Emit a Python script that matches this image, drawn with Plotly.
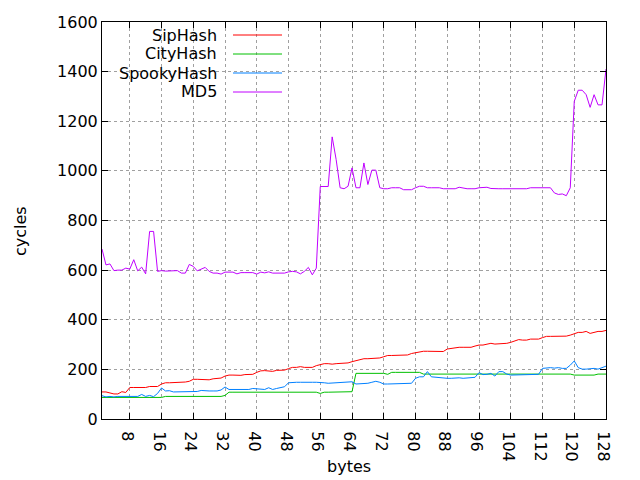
import plotly.graph_objects as go

x_bytes = list(range(1, 129))

siphash = [109, 109, 105, 101, 101, 110, 107, 127, 127, 127, 127, 127, 131, 131, 131, 141,
           146, 146, 146, 149, 149, 149, 152, 160, 160, 160, 158, 158, 162, 162, 165, 173,
           177, 177, 176, 176, 179, 179, 180, 188, 194, 195, 192, 192, 196, 196, 197, 203,
           208, 208, 211, 208, 208, 208, 215, 219, 223, 223, 221, 223, 223, 224, 226, 231,
           236, 240, 243, 243, 243, 244, 246, 251, 256, 256, 256, 256, 256, 258, 264, 267,
           273, 273, 273, 272, 272, 272, 272, 282, 285, 285, 289, 289, 289, 289, 294, 298,
           298, 302, 305, 302, 302, 305, 305, 309, 315, 320, 318, 318, 322, 322, 322, 328,
           333, 333, 333, 333, 334, 334, 338, 344, 349, 349, 353, 345, 349, 353, 353, 357]

cityhash = [87, 87, 87, 87, 87, 87, 87, 87, 87, 87, 87, 87, 87, 87, 87, 87,
            91, 91, 91, 91, 91, 91, 91, 91, 91, 91, 91, 91, 91, 91, 91, 95,
            108, 108, 108, 108, 108, 108, 108, 108, 108, 108, 108, 108, 108, 108, 108, 108,
            108, 108, 108, 108, 108, 108, 108, 103, 108, 108, 108, 108, 108, 108, 108, 110,
            184, 184, 184, 184, 184, 184, 184, 184, 180, 188, 188, 188, 188, 188, 188, 188,
            188, 181, 181, 181, 181, 181, 181, 181, 181, 181, 181, 181, 181, 181, 181, 183,
            183, 183, 183, 183, 183, 183, 183, 183, 183, 183, 183, 183, 183, 183, 183, 183,
            181, 181, 181, 181, 181, 181, 181, 177, 177, 177, 177, 177, 177, 181, 181, 181]

spookyhash = [94, 89, 91, 89, 91, 91, 91, 91, 91, 91, 99, 91, 95, 90, 103, 125,
              113, 114, 109, 109, 109, 109, 111, 111, 111, 115, 113, 113, 113, 113, 117, 129,
              119, 119, 119, 119, 119, 119, 123, 121, 119, 119, 126, 119, 123, 125, 130, 146,
              148, 148, 148, 149, 148, 148, 148, 148, 146, 144, 145, 148, 148, 148, 148, 150,
              141, 142, 144, 144, 148, 152, 148, 141, 141, 141, 144, 144, 141, 144, 144, 164,
              170, 170, 191, 170, 168, 168, 166, 164, 164, 166, 166, 164, 166, 168, 168, 187,
              179, 180, 184, 173, 191, 191, 181, 177, 177, 177, 177, 180, 180, 180, 180, 204,
              207, 207, 205, 207, 204, 204, 217, 234, 207, 201, 201, 204, 204, 201, 207, 213]

md5 = [685, 621, 625, 598, 600, 600, 608, 604, 642, 597, 612, 585, 756, 756, 595, 598,
       596, 596, 596, 598, 588, 588, 623, 615, 597, 604, 611, 595, 588, 588, 584, 592,
       592, 592, 585, 590, 590, 590, 590, 584, 592, 589, 593, 588, 588, 588, 588, 593,
       595, 593, 585, 595, 611, 581, 608, 937, 937, 937, 1137, 1046, 932, 928, 938, 1012,
       932, 932, 1032, 945, 1003, 1003, 932, 928, 928, 932, 932, 932, 924, 924, 924, 932,
       938, 938, 932, 932, 932, 932, 928, 928, 928, 928, 934, 930, 928, 928, 928, 932,
       932, 934, 929, 930, 928, 928, 928, 928, 930, 928, 928, 928, 932, 932, 932, 932,
       932, 932, 911, 905, 907, 900, 932, 1280, 1325, 1325, 1307, 1256, 1307, 1266, 1266, 1410]

series_names = ["SipHash", "CityHash", "SpookyHash", "MD5"]
series_values = [siphash, cityhash, spookyhash, md5]
series_colors = ["#ff0000", "#00c000", "#0080ff", "#c000ff"]

x_ticks = list(range(8, 129, 8))
y_ticks = list(range(0, 1601, 200))

FONT = "DejaVu Sans"
FS = 16

fig = go.Figure()
for name, vals, col in zip(series_names, series_values, series_colors):
    fig.add_trace(go.Scatter(x=x_bytes, y=vals, mode="lines", name=name,
                             line=dict(color=col, width=1), showlegend=False))

# plot area in pixels: left 102, right 606, top 22, bottom 419
L, R, T, B = 102, 606, 22, 419
W, H = R - L, B - T

def px(xp):
    return (xp - L) / W

def py(yp):
    return (B - yp) / H

# manual gnuplot-style key
key_rows = [35, 54, 73, 92]
for name, col, yr in zip(series_names, series_colors, key_rows):
    fig.add_annotation(x=px(219), y=py(yr), xref="paper", yref="paper", text=name,
                       showarrow=False, xanchor="right", yanchor="middle",
                       font=dict(family=FONT, size=FS, color="black"))
    fig.add_shape(type="line", xref="paper", yref="paper", x0=px(233), x1=px(282),
                  y0=py(yr), y1=py(yr), line=dict(color=col, width=1))

fig.add_annotation(x=px(349), y=py(466), xref="paper", yref="paper", text="bytes",
                   showarrow=False, xanchor="center", yanchor="middle",
                   font=dict(family=FONT, size=FS, color="black"))
fig.add_annotation(x=px(20), y=py(231), xref="paper", yref="paper", text="cycles",
                   showarrow=False, xanchor="center", yanchor="middle", textangle=-90,
                   font=dict(family=FONT, size=FS, color="black"))

axis_common = dict(showline=True, linecolor="black", linewidth=1, mirror="ticks",
                   ticks="inside", ticklen=6, tickcolor="black", tickwidth=1,
                   showgrid=True, gridcolor="#a0a0a0", gridwidth=1, griddash="3px,3px",
                   zeroline=False, tickfont=dict(family=FONT, size=FS, color="black"))

fig.update_xaxes(range=[1, 128], tickmode="array", tickvals=x_ticks,
                 ticktext=[str(v) for v in x_ticks], **axis_common)
fig.update_yaxes(range=[0, 1600], tickmode="array", tickvals=y_ticks,
                 ticktext=[str(v) for v in y_ticks], **axis_common)

fig.update_layout(width=640, height=480, margin=dict(l=L, r=640 - R, t=T, b=480 - B),
                  paper_bgcolor="white", plot_bgcolor="white",
                  font=dict(family=FONT, size=FS, color="black"))

fig.write_html("out.html")
